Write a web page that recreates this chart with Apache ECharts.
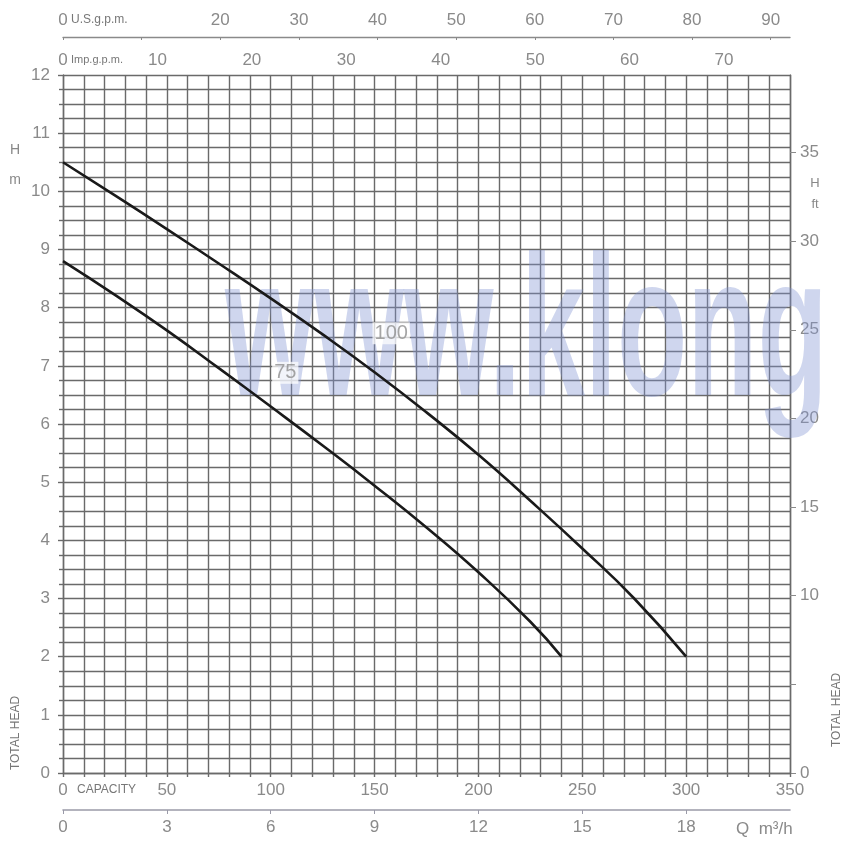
<!DOCTYPE html>
<html>
<head>
<meta charset="utf-8">
<script src="https://cdn.jsdelivr.net/npm/echarts@6/dist/echarts.min.js"></script>
<style>
html,body{margin:0;padding:0;background:#fff;}
#c{width:847px;height:842px;}
</style>
</head>
<body>
<div id="c"></div>
<script>
// ---- data ----
const flow100 = [0, 25, 50, 75, 100, 125, 150, 175, 200, 225, 250, 275, 300];       // l/min
const head100 = [10.5, 9.93, 9.35, 8.76, 8.16, 7.54, 6.89, 6.20, 5.47, 4.68, 3.86, 3.0, 2.0]; // m
const flow75  = [0, 25, 50, 75, 100, 125, 150, 175, 200, 225, 240];
const head75  = [8.8, 8.22, 7.61, 6.96, 6.30, 5.63, 4.94, 4.22, 3.45, 2.6, 2.0];
const curveNames = ['100', '75'];
const curveLabelAt = [[158, 7.56], [107, 6.88]]; // where the curve names sit (l/min, m)

const usGpmLabels  = [0, 20, 30, 40, 50, 60, 70, 80, 90];
const usGpmTicks   = [0, 10, 20, 30, 40, 50, 60, 70, 80, 90];
const impGpmLabels = [0, 10, 20, 30, 40, 50, 60, 70];
const m3hLabels    = [0, 3, 6, 9, 12, 15, 18];
const ftLabels     = [0, 10, 15, 20, 25, 30, 35];
const ftTicks      = [0, 5, 10, 15, 20, 25, 30, 35];

const Q_MAX = 350, H_MAX = 12;

// ---- chart ----
const gridCol = '#6a6a6a';
const txtCol = '#8a8a8a';
const FONT = "'Liberation Sans Narrow','Liberation Sans',sans-serif";
const lbl = {color: txtCol, fontSize: 17, fontFamily: FONT};

const chart = echarts.init(document.getElementById('c'));
const splitStyle = {color: gridCol, width: 1.4};

chart.setOption({
  animation: false,
  backgroundColor: '#fff',
  grid: {left: 63, right: 57, top: 75, bottom: 69, containLabel: false},
  xAxis: [
    { // l/min bottom
      type: 'value', position: 'bottom', min: 0, max: Q_MAX, interval: 50,
      axisLine: {show: true, onZero: false, lineStyle: splitStyle},
      axisTick: {show: true, length: 4, lineStyle: splitStyle},
      minorTick: {show: true, splitNumber: 5, length: 4, lineStyle: splitStyle},
      splitLine: {show: true, lineStyle: splitStyle},
      minorSplitLine: {show: true, lineStyle: splitStyle},
      axisLabel: Object.assign({margin: 9}, lbl)
    },
    { // m3/h
      type: 'value', position: 'bottom', offset: 37, min: 0, max: Q_MAX * 0.06,
      axisLine: {show: true, onZero: false, lineStyle: {color: '#9a9aa8', width: 1.6}},
      axisTick: {show: true, length: 4, customValues: m3hLabels, lineStyle: {color: '#9a9aa8'}},
      splitLine: {show: false},
      axisLabel: Object.assign({margin: 9, customValues: m3hLabels}, lbl)
    },
    { // US gpm top
      type: 'value', position: 'top', offset: 38, min: 0, max: Q_MAX / 3.785411784,
      axisLine: {show: true, onZero: false, lineStyle: {color: '#8a8a8a', width: 1.4}},
      axisTick: {show: true, length: 3, inside: true, customValues: usGpmTicks, lineStyle: {color: '#8a8a8a'}},
      splitLine: {show: false},
      axisLabel: Object.assign({margin: 8, customValues: usGpmLabels}, lbl)
    },
    { // Imp gpm top
      type: 'value', position: 'top', offset: 0, min: 0, max: Q_MAX / 4.54609,
      axisLine: {show: false, onZero: false},
      axisTick: {show: false},
      splitLine: {show: false},
      axisLabel: Object.assign({margin: 6, customValues: impGpmLabels}, lbl)
    }
  ],
  yAxis: [
    { // m left
      type: 'value', position: 'left', min: 0, max: H_MAX, interval: 1,
      axisLine: {show: true, onZero: false, lineStyle: splitStyle},
      axisTick: {show: true, length: 5, lineStyle: splitStyle},
      minorTick: {show: true, splitNumber: 4, length: 4, lineStyle: splitStyle},
      splitLine: {show: true, lineStyle: splitStyle},
      minorSplitLine: {show: true, lineStyle: splitStyle},
      axisLabel: Object.assign({margin: 13}, lbl)
    },
    { // ft right
      type: 'value', position: 'right', min: 0, max: H_MAX / 0.3048,
      axisLine: {show: true, onZero: false, lineStyle: splitStyle},
      axisTick: {show: true, length: 6, customValues: ftTicks, lineStyle: {color: '#8a8a8a'}},
      splitLine: {show: false},
      axisLabel: Object.assign({margin: 10, customValues: ftLabels}, lbl)
    }
  ],
  graphic: [
    { type: 'text', x: 225, y: 440, scaleX: 0.575, scaleY: 1, z: 1, silent: true,
      style: {x: 0, y: 0, text: 'www.klong', font: "bold 200px 'Liberation Sans',sans-serif",
              fill: 'rgba(130,148,210,0.38)', textAlign: 'left', textVerticalAlign: 'bottom'} },
    { type: 'text', x: 71, y: 20, style: {text: 'U.S.g.p.m.', font: "12px " + FONT, fill: '#777', textVerticalAlign: 'middle'} },
    { type: 'text', x: 71, y: 60, style: {text: 'Imp.g.p.m.', font: "11px " + FONT, fill: '#777', textVerticalAlign: 'middle'} },
    { type: 'text', x: 77, y: 790, style: {text: 'CAPACITY', font: "12px " + FONT, fill: '#777', textVerticalAlign: 'middle'} },
    { type: 'text', x: 736, y: 829, style: {text: 'Q  m³/h', font: "17px " + FONT, fill: txtCol, textVerticalAlign: 'middle'} },
    { type: 'text', x: 15, y: 150, style: {text: 'H', font: "14px " + FONT, fill: '#888', textAlign: 'center', textVerticalAlign: 'middle'} },
    { type: 'text', x: 15, y: 180, style: {text: 'm', font: "14px " + FONT, fill: '#888', textAlign: 'center', textVerticalAlign: 'middle'} },
    { type: 'text', x: 815, y: 183, style: {text: 'H', font: "13px " + FONT, fill: '#888', textAlign: 'center', textVerticalAlign: 'middle'} },
    { type: 'text', x: 815, y: 204, style: {text: 'ft', font: "13px " + FONT, fill: '#888', textAlign: 'center', textVerticalAlign: 'middle'} },
    { type: 'text', x: 16, y: 733, rotation: Math.PI / 2,
      style: {text: 'TOTAL HEAD', font: "12px " + FONT, fill: '#777', textAlign: 'center', textVerticalAlign: 'middle'} },
    { type: 'text', x: 837, y: 710, rotation: Math.PI / 2,
      style: {text: 'TOTAL HEAD', font: "12px " + FONT, fill: '#777', textAlign: 'center', textVerticalAlign: 'middle'} }
  ],
  series: [
    { name: curveNames[0], type: 'line', xAxisIndex: 0, yAxisIndex: 0, smooth: true, showSymbol: false, z: 5,
      lineStyle: {color: '#1a1a1a', width: 2.6},
      data: flow100.map((q, i) => [q, head100[i]]) },
    { name: curveNames[1], type: 'line', xAxisIndex: 0, yAxisIndex: 0, smooth: true, showSymbol: false, z: 5,
      lineStyle: {color: '#1a1a1a', width: 2.6},
      data: flow75.map((q, i) => [q, head75[i]]) },
    { name: 'labels', type: 'scatter', xAxisIndex: 0, yAxisIndex: 0, symbolSize: 0, z: 6,
      label: {show: true, position: 'inside', formatter: p => p.name, color: '#8f8f8f', fontSize: 20,
              fontFamily: FONT, backgroundColor: 'rgba(255,255,255,0.9)', padding: [1, 2]},
      data: curveNames.map((n, i) => ({name: n, value: curveLabelAt[i]})) }
  ]
});
</script>
</body>
</html>
